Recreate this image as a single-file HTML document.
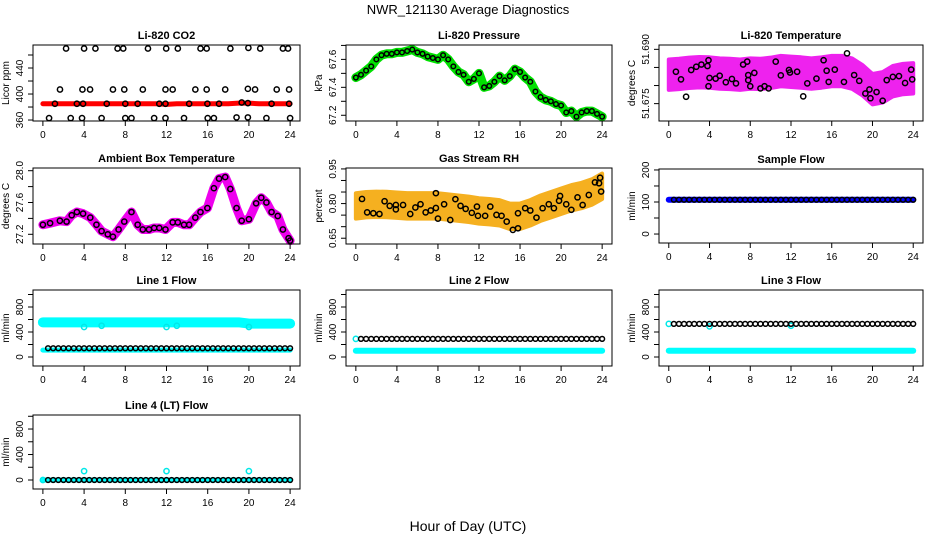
<!DOCTYPE html>
<html><head><meta charset="utf-8">
<style>
html,body{margin:0;padding:0;background:#fff;}
svg{display:block;font-family:"Liberation Sans",Arial,sans-serif;}
.title{font-size:11px;font-weight:bold;text-anchor:middle;}
.tick{font-size:10px;}
</style></head>
<body>
<svg id="chart" width="936" height="540" viewBox="0 0 936 540">
<rect width="936" height="540" fill="#fff"/>
<text x="468" y="14" text-anchor="middle" font-size="13">NWR_121130  Average Diagnostics</text>
<text x="468" y="531" text-anchor="middle" font-size="14">Hour of Day (UTC)</text>
</svg>
<script>
const HOURS=[0,1,2,3,4,5,6,7,8,9,10,11,12,13,14,15,16,17,18,19,20,21,22,23,24];
const HALF=[0.5,1,1.5,2,2.5,3,3.5,4,4.5,5,5.5,6,6.5,7,7.5,8,8.5,9,9.5,10,10.5,11,11.5,12,12.5,13,13.5,14,14.5,15,15.5,16,16.5,17,17.5,18,18.5,19,19.5,20,20.5,21,21.5,22,22.5,23,23.5,24];
const XTICKS=[0,4,8,12,16,20,24];

// CO2
const co2Band=[385,385,385,385,385,385,385,385,385,385,385,385,384,385,385,385,385,385,385,386,386,385,385,385,385];
const co2T=[2.25,4.0,5.1,7.25,7.8,10.2,11.97,13.1,15.3,15.9,18.2,19.95,21.1,23.3,23.8,
 1.66,3.84,4.58,6.8,7.9,9.7,11.9,12.6,14.8,15.9,17.7,19.9,20.6,22.7,23.9,
 1.17,3.3,3.9,6.2,8.0,9.2,11.3,11.9,14.2,15.97,17.1,19.3,19.9,22.2,23.9,
 0.6,2.7,3.8,5.7,8.0,8.6,10.8,11.9,13.7,16.0,16.6,18.8,19.9,21.7,24.0];
const co2V=[470,470,470,470,470,470,470,470,470,470,470,471,470,470,470,
 407,407,407,407,407,407,407,407,407,407,407,408,407,407,407,
 385,385,385,385,385,385,385,385,385,385,385,387,386,385,385,
 363,363,363,363,363,363,363,363,363,363,363,364,364,363,363];

// Pressure
const presT=[0,0.5,1,1.5,2,2.5,3,3.5,4,4.5,5,5.5,6,6.5,7,7.5,8,8.5,9,9.5,10,10.5,11,11.5,12,12.5,13,13.5,14,14.5,15,15.5,16,16.5,17,17.5,18,18.5,19,19.5,20,20.5,21,21.5,22,22.5,23,23.5,24];
const presV=[67.47,67.49,67.52,67.55,67.60,67.63,67.64,67.64,67.65,67.65,67.66,67.67,67.65,67.64,67.62,67.61,67.60,67.63,67.60,67.55,67.51,67.49,67.44,67.46,67.50,67.40,67.41,67.44,67.48,67.45,67.48,67.53,67.51,67.47,67.44,67.37,67.33,67.31,67.30,67.28,67.27,67.22,67.23,67.19,67.22,67.23,67.23,67.21,67.19];

// Li-820 temperature
const tempMean=[51.6830,51.6832,51.6835,51.6837,51.6836,51.6833,51.6832,51.6830,51.6833,51.6832,51.6835,51.6840,51.6838,51.6836,51.6833,51.6836,51.6840,51.6840,51.6833,51.6815,51.6790,51.6795,51.6812,51.6818,51.6820];
const tempSpread=0.0042;
const tempT=[0.7,1.2,1.7,2.2,2.7,3.2,3.8,3.9,3.9,4.0,4.6,5.0,5.6,6.2,6.6,7.3,7.7,7.8,7.8,8.0,8.4,9.0,9.4,9.8,10.5,11.0,11.8,11.9,12.6,13.2,13.6,14.5,15.2,15.5,15.7,16.3,17.2,17.5,18.2,18.7,19.3,19.7,19.8,20.4,21.0,21.4,22.0,22.6,23.2,23.8,23.9];
const tempV=[51.6838,51.6817,51.6769,51.6843,51.6852,51.6858,51.6854,51.6870,51.6798,51.6821,51.6819,51.6827,51.6809,51.6818,51.6806,51.6858,51.6866,51.6829,51.6815,51.6798,51.6835,51.6792,51.6798,51.6792,51.6866,51.6828,51.6843,51.6836,51.6838,51.6770,51.6806,51.6819,51.6870,51.6841,51.6810,51.6844,51.6810,51.6889,51.6829,51.6813,51.6778,51.6789,51.6765,51.6782,51.6758,51.6815,51.6824,51.6826,51.6807,51.6844,51.6817];

// Ambient box temperature
const ambT=[0,0.7,1.65,2.3,2.8,3.3,3.9,4.6,5.2,5.7,6.3,6.8,7.35,7.9,8.6,9.2,9.7,10.3,10.8,11.3,11.9,12.6,13.1,13.7,14.2,14.8,15.3,15.97,16.6,17.1,17.7,18.2,18.8,19.3,20.0,20.7,21.2,21.7,22.2,22.8,23.3,23.85,24.0];
const ambV=[27.32,27.34,27.37,27.36,27.44,27.48,27.46,27.41,27.32,27.24,27.20,27.17,27.26,27.36,27.48,27.32,27.26,27.26,27.28,27.28,27.26,27.35,27.35,27.32,27.32,27.41,27.48,27.53,27.78,27.90,27.92,27.77,27.53,27.37,27.39,27.59,27.66,27.60,27.48,27.43,27.26,27.15,27.12];

// Gas stream RH
const rhMean=[0.790,0.795,0.797,0.796,0.793,0.790,0.790,0.790,0.790,0.785,0.780,0.775,0.768,0.765,0.760,0.745,0.745,0.760,0.780,0.795,0.810,0.825,0.835,0.850,0.875];
const rhSpread=0.055;
const rhT=[0.6,1.1,1.7,2.3,2.8,3.3,3.9,3.9,4.6,5.3,5.8,6.3,6.8,7.3,7.8,7.8,8.0,8.6,9.2,9.7,10.2,10.7,11.3,11.8,11.9,12.6,13.1,13.7,14.2,14.7,15.3,15.8,15.8,16.5,17.0,17.6,18.2,18.8,19.3,19.8,19.9,20.5,21.0,21.6,22.1,22.7,23.3,23.7,23.8,23.9];
const rhV=[0.820,0.762,0.758,0.755,0.810,0.790,0.794,0.775,0.794,0.755,0.783,0.797,0.762,0.770,0.781,0.845,0.735,0.797,0.729,0.819,0.790,0.777,0.760,0.787,0.747,0.747,0.787,0.751,0.747,0.722,0.686,0.758,0.693,0.780,0.770,0.739,0.780,0.797,0.780,0.812,0.833,0.797,0.773,0.827,0.794,0.837,0.892,0.888,0.912,0.852];

// Flows
const sampleBand=[107,107,107,107,107,107,107,107,107,107,107,107,107,107,107,107,107,107,107,107,107,107,107,107,107];
const sampleBlack=107;
const l1Cyan=[555,555,555,555,555,555,555,555,555,555,555,555,555,555,555,555,555,555,555,555,535,535,535,535,535];
const l1CyanLow=[110,110,110,110,110,110,110,110,110,110,110,110,110,110,110,110,110,110,110,110,110,110,110,110,110];
const l1Black=140;
const l1DipT=[4,5.7,12,13,20];
const l1DipV=[480,500,480,500,480];
const l2Cyan=[100,100,100,100,100,100,100,100,100,100,100,100,100,100,100,100,100,100,100,100,100,100,100,100,100];
const l2Black=290;
const l2CyanT=[0];
const l2CyanV=[290];
const l3Cyan=[100,100,100,100,100,100,100,100,100,100,100,100,100,100,100,100,100,100,100,100,100,100,100,100,100];
const l3Black=530;
const l3CyanT=[0,4,12];
const l3CyanV=[530,490,500];
const l4Cyan=[0,0,0,0,0,0,0,0,0,0,0,0,0,0,0,0,0,0,0,0,0,0,0,0,0];
const l4Black=0;
const l4CyanT=[0,4,12,20];
const l4CyanV=[0,140,140,140];

const NS="http://www.w3.org/2000/svg";
const svg=document.getElementById('chart');
function mk(tag,attrs,parent){const e=document.createElementNS(NS,tag);for(const k in attrs)e.setAttribute(k,attrs[k]);(parent||svg).appendChild(e);return e;}

function panel(p){
  const g=mk('g',{});
  
  
  const sx=t=>p.x0+(t+0.96)/25.92*(p.x1-p.x0);
  const sy=v=>p.y1-(v-p.ymin)/(p.ymax-p.ymin)*(p.y1-p.y0);
  const t=mk('text',{x:(p.x0+p.x1)/2,y:p.y0-6,class:'title'},g);t.textContent=p.title;
  
  
  const plot=mk('g',{},g);
  
  
  const ax=mk('g',{},g);
  
  
  XTICKS.forEach(v=>{const x=sx(v);mk('line',{x1:x,x2:x,y1:p.y1,y2:p.y1+5,stroke:'#000'},ax);
    const l=mk('text',{x:x,y:p.y1+17,'text-anchor':'middle',class:'tick'},ax);l.textContent=v;});
  const ay=mk('g',{},g);
  
  
  p.yticks.forEach(v=>{const y=sy(v);mk('line',{x1:p.x0-5,x2:p.x0,y1:y,y2:y,stroke:'#000'},ay);});
  p.ylabels.forEach(v=>{const y=sy(v);const l=mk('text',{x:0,y:0,'text-anchor':'middle',class:'tick',transform:`translate(${p.x0-10},${y}) rotate(-90)`},ay);l.textContent=v;});
  const yl=mk('text',{x:0,y:0,'text-anchor':'middle','font-size':'10',transform:`translate(${p.x0-24},${(p.y0+p.y1)/2}) rotate(-90)`},g);
  yl.textContent=p.ylab;
  
  
  mk('rect',{x:p.x0,y:p.y0,width:p.x1-p.x0,height:p.y1-p.y0,fill:'none',stroke:'#000'},g);
  return {sx,sy,plot};
}
function band(P,ts,vs,color,w,name){
  const l=mk('polyline',{points:ts.map((t,i)=>P.sx(t)+','+P.sy(vs[i])).join(' '),fill:'none',stroke:color,'stroke-width':w,'stroke-linejoin':'round','stroke-linecap':'round'},P.plot);
  
  
}
function area(P,ts,vs,s,color,name){
  const up=ts.map((t,i)=>P.sx(t)+','+P.sy(vs[i]+s));
  const dn=ts.map((t,i)=>P.sx(t)+','+P.sy(vs[i]-s)).reverse();
  const a=mk('polygon',{points:up.concat(dn).join(' '),fill:color,stroke:color,'stroke-width':4,'stroke-linejoin':'round'},P.plot);
  
  
}
function pts(P,ts,vs,color,name,r){
  ts.forEach((t,i)=>{const c=mk('circle',{cx:P.sx(t),cy:P.sy(vs[i]),r:r||2.6,fill:'none',stroke:color,'stroke-width':1.5},P.plot);
    
    });
}
const C1=[33,300],C2=[346,612],C3=[659,923];
const FT=[0,200,400,600,800,1000],FL=[0,400,800];

// Row 1
let P=panel({name:'co2-panel',title:'Li-820 CO2',ylab:'Licor ppm',x0:C1[0],x1:C1[1],y0:45,y1:121,ymin:358.5,ymax:475.4,yticks:[360,380,400,420,440,460],ylabels:[360,400,440]});
band(P,HOURS,co2Band,'#ff0000',5,'co2-raw-band');
pts(P,co2T,co2V,'#000','co2-average-point');

P=panel({name:'pressure-panel',title:'Li-820 Pressure',ylab:'kPa',x0:C2[0],x1:C2[1],y0:45,y1:121,ymin:67.159,ymax:67.703,yticks:[67.2,67.3,67.4,67.5,67.6,67.7],ylabels:[67.2,67.4,67.6]});
band(P,presT,presV,'#00e000',9,'pressure-raw-band');
pts(P,presT,presV,'#000','pressure-average-point',2.3);

P=panel({name:'li820-temp-panel',title:'Li-820 Temperature',ylab:'degrees C',x0:C3[0],x1:C3[1],y0:45,y1:121,ymin:51.6702,ymax:51.6912,yticks:[51.675,51.680,51.685,51.690],ylabels:['51.675','51.690']});
area(P,HOURS,tempMean,tempSpread,'#ee22ee','temp-raw-cloud');
pts(P,tempT,tempV,'#000','temp-average-point');

// Row 2
P=panel({name:'ambient-temp-panel',title:'Ambient Box Temperature',ylab:'degrees C',x0:C1[0],x1:C1[1],y0:168,y1:244,ymin:27.078,ymax:28.034,yticks:[27.2,27.4,27.6,27.8,28.0],ylabels:['27.2','27.6','28.0']});
band(P,ambT,ambV,'#ee00ee',9,'ambient-raw-band');
pts(P,ambT,ambV,'#000','ambient-average-point');

P=panel({name:'rh-panel',title:'Gas Stream RH',ylab:'percent',x0:C2[0],x1:C2[1],y0:168,y1:244,ymin:0.625,ymax:0.954,yticks:[0.65,0.70,0.75,0.80,0.85,0.90,0.95],ylabels:['0.65','0.80','0.95']});
area(P,HOURS,rhMean,rhSpread,'#f5b020','rh-raw-cloud');
pts(P,rhT,rhV,'#000','rh-average-point');

P=panel({name:'sample-flow-panel',title:'Sample Flow',ylab:'ml/min',x0:C3[0],x1:C3[1],y0:169,y1:243,ymin:-28,ymax:203,yticks:[0,50,100,150,200],ylabels:[0,100,200]});
band(P,HOURS,sampleBand,'#0000ff',6,'sample-raw-band');
pts(P,HALF,HALF.map(()=>sampleBlack),'#000','sample-average-point',2.4);

// Row 3
P=panel({name:'line1-flow-panel',title:'Line 1 Flow',ylab:'ml/min',x0:C1[0],x1:C1[1],y0:290,y1:366,ymin:-144,ymax:1072,yticks:FT,ylabels:FL});
band(P,HOURS,l1Cyan,'#00ffff',10,'line1-high-band');
band(P,HOURS,l1CyanLow,'#00ffff',5,'line1-low-band');
pts(P,l1DipT,l1DipV,'#00e8e8','line1-dip-point');
pts(P,HALF,HALF.map(()=>l1Black),'#000','line1-average-point',2.4);

P=panel({name:'line2-flow-panel',title:'Line 2 Flow',ylab:'ml/min',x0:C2[0],x1:C2[1],y0:290,y1:366,ymin:-144,ymax:1072,yticks:FT,ylabels:FL});
band(P,HOURS,l2Cyan,'#00ffff',6,'line2-raw-band');
pts(P,l2CyanT,l2CyanV,'#00e8e8','line2-cyan-point');
pts(P,HALF,HALF.map(()=>l2Black),'#000','line2-average-point',2.4);

P=panel({name:'line3-flow-panel',title:'Line 3 Flow',ylab:'ml/min',x0:C3[0],x1:C3[1],y0:290,y1:366,ymin:-144,ymax:1072,yticks:FT,ylabels:FL});
band(P,HOURS,l3Cyan,'#00ffff',6,'line3-raw-band');
pts(P,l3CyanT,l3CyanV,'#00e8e8','line3-cyan-point');
pts(P,HALF,HALF.map(()=>l3Black),'#000','line3-average-point',2.4);

// Row 4
P=panel({name:'line4-flow-panel',title:'Line 4 (LT) Flow',ylab:'ml/min',x0:C1[0],x1:C1[1],y0:415,y1:489,ymin:-141,ymax:1020,yticks:FT,ylabels:FL});
band(P,HOURS,l4Cyan,'#00ffff',5,'line4-raw-band');
pts(P,l4CyanT,l4CyanV,'#00e8e8','line4-cyan-point');
pts(P,HALF,HALF.map(()=>l4Black),'#000','line4-average-point',2.4);
</script>
</body></html>
